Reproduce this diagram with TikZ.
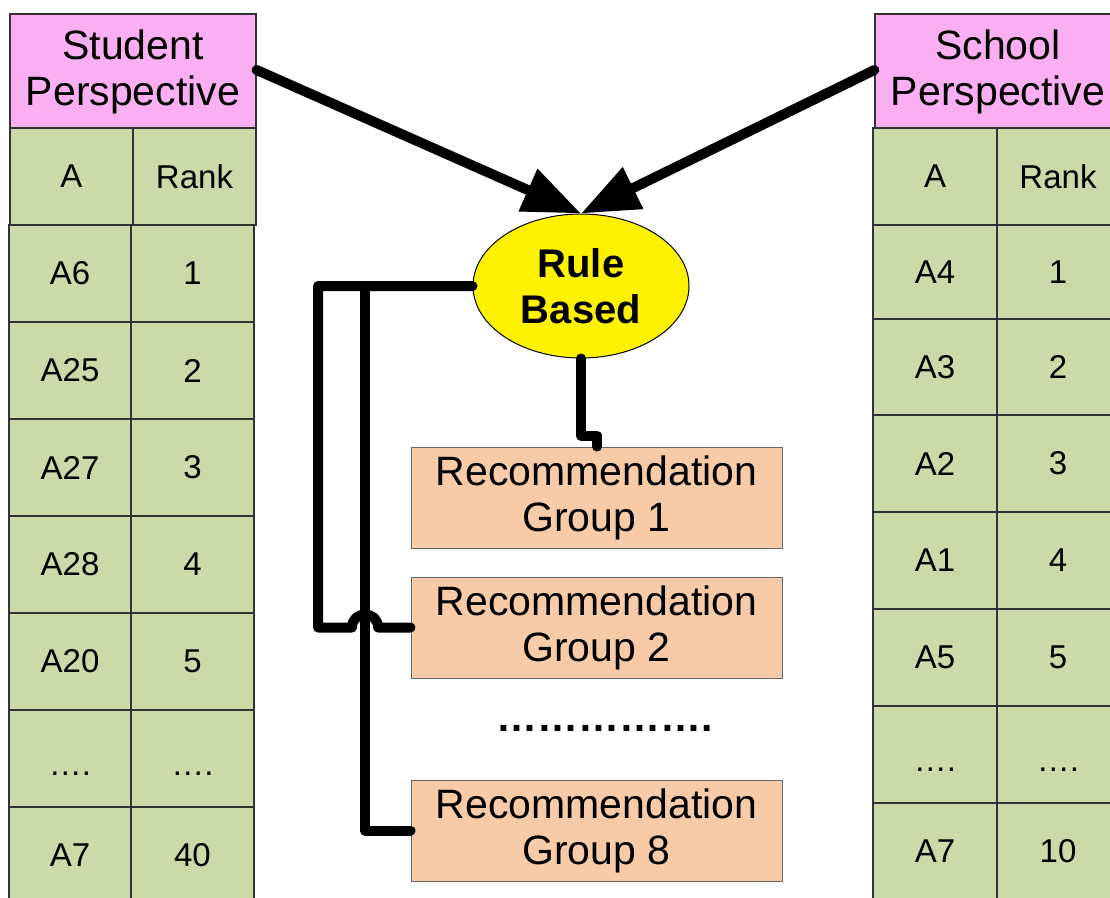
\documentclass[tikz,border=0pt]{standalone}
\usepackage{fontspec}
\setmainfont{Liberation Sans}
\usetikzlibrary{arrows.meta,shapes.geometric}
\definecolor{pinkh}{RGB}{250,175,242}
\definecolor{greenc}{RGB}{204,218,170}
\definecolor{peach}{RGB}{248,203,168}
\begin{document}
\begin{tikzpicture}[x=1pt,y=-1pt,
  cell/.style={draw=black!80, line width=1.2pt, fill=greenc},
  hdr/.style={draw=black!80, line width=1.2pt, fill=pinkh, inner sep=0pt,
    minimum width=246pt, minimum height=116pt, align=center,
    font=\fontsize{41}{46}\selectfont},
  rec/.style={draw=black!60, line width=1pt, fill=peach, inner sep=0pt,
    minimum width=371pt, minimum height=101pt, align=center,
    font=\fontsize{41}{46}\selectfont},
  ctext/.style={inner sep=0pt, font=\fontsize{33}{38}\selectfont},
  conn/.style={line width=10pt, line cap=round, line join=round},
  arr/.style={conn, -{Triangle[length=58pt,width=44pt]}}]
\useasboundingbox (0,0) rectangle (1110,897);
\clip (0,0) rectangle (1110,897);

% ---------- left table ----------
\node[hdr] (sp) at (133,72) {Student\\Perspective};
\draw[cell] (10,128) rectangle (133,225);
\draw[cell] (133,128) rectangle (256,225);
\node[ctext] (sha) at (71.5,176.5) {A};
\node[ctext] (shr) at (194.5,176.5) {Rank};
\foreach \a/\b/\ya/\yb/\dy [count=\i] in {A6/1/225/322/0,A25/2/322/419/0,A27/3/419/516/0,A28/4/516/613/0,A20/5/613/710/0,{….}/{….}/710/807/15,A7/40/807/904/0}{
  \pgfmathsetmacro\ym{(\ya+\yb)/2+\dy}
  \draw[cell] (9,\ya) rectangle (131,\yb);
  \draw[cell] (131,\ya) rectangle (254,\yb);
  \node[ctext] (sa\i) at (70,\ym) {\a};
  \node[ctext] (sr\i) at (192.5,\ym) {\b};
}

% ---------- right table ----------
\node[hdr] (schp) at (998,72) {School\\Perspective};
\draw[cell] (873,128) rectangle (997,225);
\draw[cell] (997,128) rectangle (1120,225);
\node[ctext] (cha) at (935,176.5) {A};
\node[ctext] (chr) at (1058,176.5) {Rank};
\foreach \a/\b/\ya/\yb/\dy [count=\i] in {A4/1/225/319/0,A3/2/319/415/0,A2/3/415/512/0,A1/4/512/609/0,A5/5/609/706/0,{….}/{….}/706/803/15,A7/10/803/900/0}{
  \pgfmathsetmacro\ym{(\ya+\yb)/2+\dy}
  \draw[cell] (873,\ya) rectangle (997,\yb);
  \draw[cell] (997,\ya) rectangle (1120,\yb);
  \node[ctext] (ca\i) at (935,\ym) {\a};
  \node[ctext] (cr\i) at (1058,\ym) {\b};
}

% ---------- centre ----------
\node[ellipse, draw=black, line width=1pt, fill=yellow, inner sep=0pt,
  minimum width=216pt, minimum height=144pt, align=center,
  font=\bfseries\fontsize{40}{46}\selectfont] (rb) at (581,286) {Rule\\Based};

\node[rec] (g1) at (596.5,497.5) {Recommendation\\Group 1};
\node[rec] (g2) at (596.5,627.5) {Recommendation\\Group 2};
\node[rec] (g8) at (596.5,830.5) {Recommendation\\Group 8};
\node[anchor=base, inner sep=0pt, font=\bfseries\fontsize{41}{46}\selectfont] (dots) at (605,731) {…………….};

% ---------- connectors ----------
\draw[arr] (sp.east |- 0,70) -- (rb.north);
\draw[arr] (schp.west |- 0,70) -- (rb.north);

\draw[conn] (rb.south) -- ++(0,77) -- ++(16,0) -- (597,0 |- g1.north);
\draw[conn] (365,0 |- rb.west) -- (365,0 |- g8.west) -- (g8.west);
\draw[conn] (rb.west) -- (318,0 |- rb.west) -- (318,0 |- g2.west) -- (352,0 |- g2.west)
  .. controls (352,610.2) and (378,610.2) .. (378,0 |- g2.west) -- (g2.west);
\end{tikzpicture}
\end{document}
